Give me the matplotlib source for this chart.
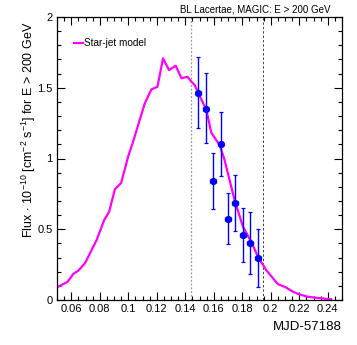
import matplotlib
matplotlib.use('Agg')
import matplotlib.pyplot as plt
from matplotlib.ticker import MultipleLocator

plt.rcParams['font.family'] = ['Liberation Sans', 'DejaVu Sans']
plt.rcParams['mathtext.fontset'] = 'custom'
plt.rcParams['mathtext.rm'] = 'Liberation Sans'

# star-jet model curve
model_t = [0.050, 0.0575, 0.0614, 0.0649, 0.0696, 0.0778, 0.0831, 0.0866, 0.0906, 0.0950,
           0.0999, 0.1034, 0.1116, 0.1163, 0.1205, 0.1244, 0.1286, 0.1333, 0.1373, 0.1415,
           0.1443, 0.1466, 0.1548, 0.1583, 0.1641, 0.1676, 0.1746, 0.1805, 0.1863, 0.1910,
           0.1968, 0.2050, 0.2105, 0.2155, 0.2200, 0.2260, 0.2354, 0.2424]
model_flux = [0.09, 0.129, 0.184, 0.207, 0.259, 0.424, 0.565, 0.624, 0.782, 0.827,
              1.013, 1.119, 1.390, 1.489, 1.507, 1.708, 1.625, 1.656, 1.567, 1.578,
              1.543, 1.519, 1.343, 1.182, 1.095, 0.989, 0.707, 0.518, 0.412, 0.306,
              0.212, 0.112, 0.090, 0.059, 0.040, 0.023, 0.012, 0.005]

# MAGIC light curve points
obs_t = [0.1492, 0.1543, 0.1597, 0.1648, 0.1702, 0.1749, 0.1805, 0.1856, 0.1910]
obs_flux = [1.465, 1.352, 0.841, 1.102, 0.572, 0.683, 0.457, 0.405, 0.297]
obs_hi = [1.716, 1.602, 1.037, 1.326, 0.754, 0.883, 0.652, 0.624, 0.500]
obs_lo = [1.218, 1.112, 0.643, 0.879, 0.394, 0.488, 0.266, 0.186, 0.090]
obs_terr = 0.002

# observation window
win_start, win_end = 0.1443, 0.1945

fig = plt.figure(figsize=(3.57, 3.45), dpi=100)
ax = fig.add_axes([57 / 357, 1 - 300 / 345, 285 / 357, 283 / 345])

ax.plot(model_t, model_flux, color='#ff00ff', lw=1.6, label='Star-jet model', zorder=2)

yerr = [[f - l for f, l in zip(obs_flux, obs_lo)], [h - f for f, h in zip(obs_flux, obs_hi)]]
ax.errorbar(obs_t, obs_flux, yerr=yerr, xerr=obs_terr, fmt='o', color='#0000ff',
            ms=4.2, elinewidth=1.0, capsize=1.2, capthick=0.9, zorder=3)

ax.axvline(win_start, color='#999999', ls=(0, (1.5, 1.5)), lw=0.9, zorder=1)
ax.axvline(win_end, color='#444444', ls=(0, (2.5, 2)), lw=0.7, zorder=1)

ax.set_xlim(0.05, 0.25)
ax.set_ylim(0, 2)
ax.xaxis.set_minor_locator(MultipleLocator(0.005))
ax.yaxis.set_minor_locator(MultipleLocator(0.1))
ax.set_xticks([0.06, 0.08, 0.1, 0.12, 0.14, 0.16, 0.18, 0.2, 0.22, 0.24])
ax.set_xticklabels(['0.06', '0.08', '0.1', '0.12', '0.14', '0.16', '0.18', '0.2', '0.22', '0.24'])
ax.set_yticks([0, 0.5, 1, 1.5, 2])
ax.set_yticklabels(['0', '0.5', '1', '1.5', '2'])
ax.tick_params(which='both', direction='in', top=True, right=True, labelsize=8, width=0.8)
ax.tick_params(which='major', length=6)
ax.tick_params(which='minor', length=3)
ax.tick_params(axis='x', pad=3)
ax.tick_params(axis='y', pad=3)
for s in ax.spines.values():
    s.set_linewidth(0.9)

ax.legend(loc='upper left', bbox_to_anchor=(0.06, 0.925), frameon=False, fontsize=7.2,
          handlelength=0.9, handletextpad=0.1, borderpad=0, borderaxespad=0)

fig.text(330 / 357, 1 - 10 / 345, 'BL Lacertae, MAGIC: E > 200 GeV', ha='right', va='center',
         fontsize=7)
fig.text(29 / 357, 1 - 130 / 345, r'Flux $\cdot$ 10$^{-10}$ [cm$^{-2}$ s$^{-1}$] for E > 200 GeV',
         rotation=90, ha='center', va='center', fontsize=9)
fig.text(342 / 357, 1 - 327 / 345, 'MJD-57188', ha='right', va='center', fontsize=9.5)

fig.savefig('out.png', dpi=100)
